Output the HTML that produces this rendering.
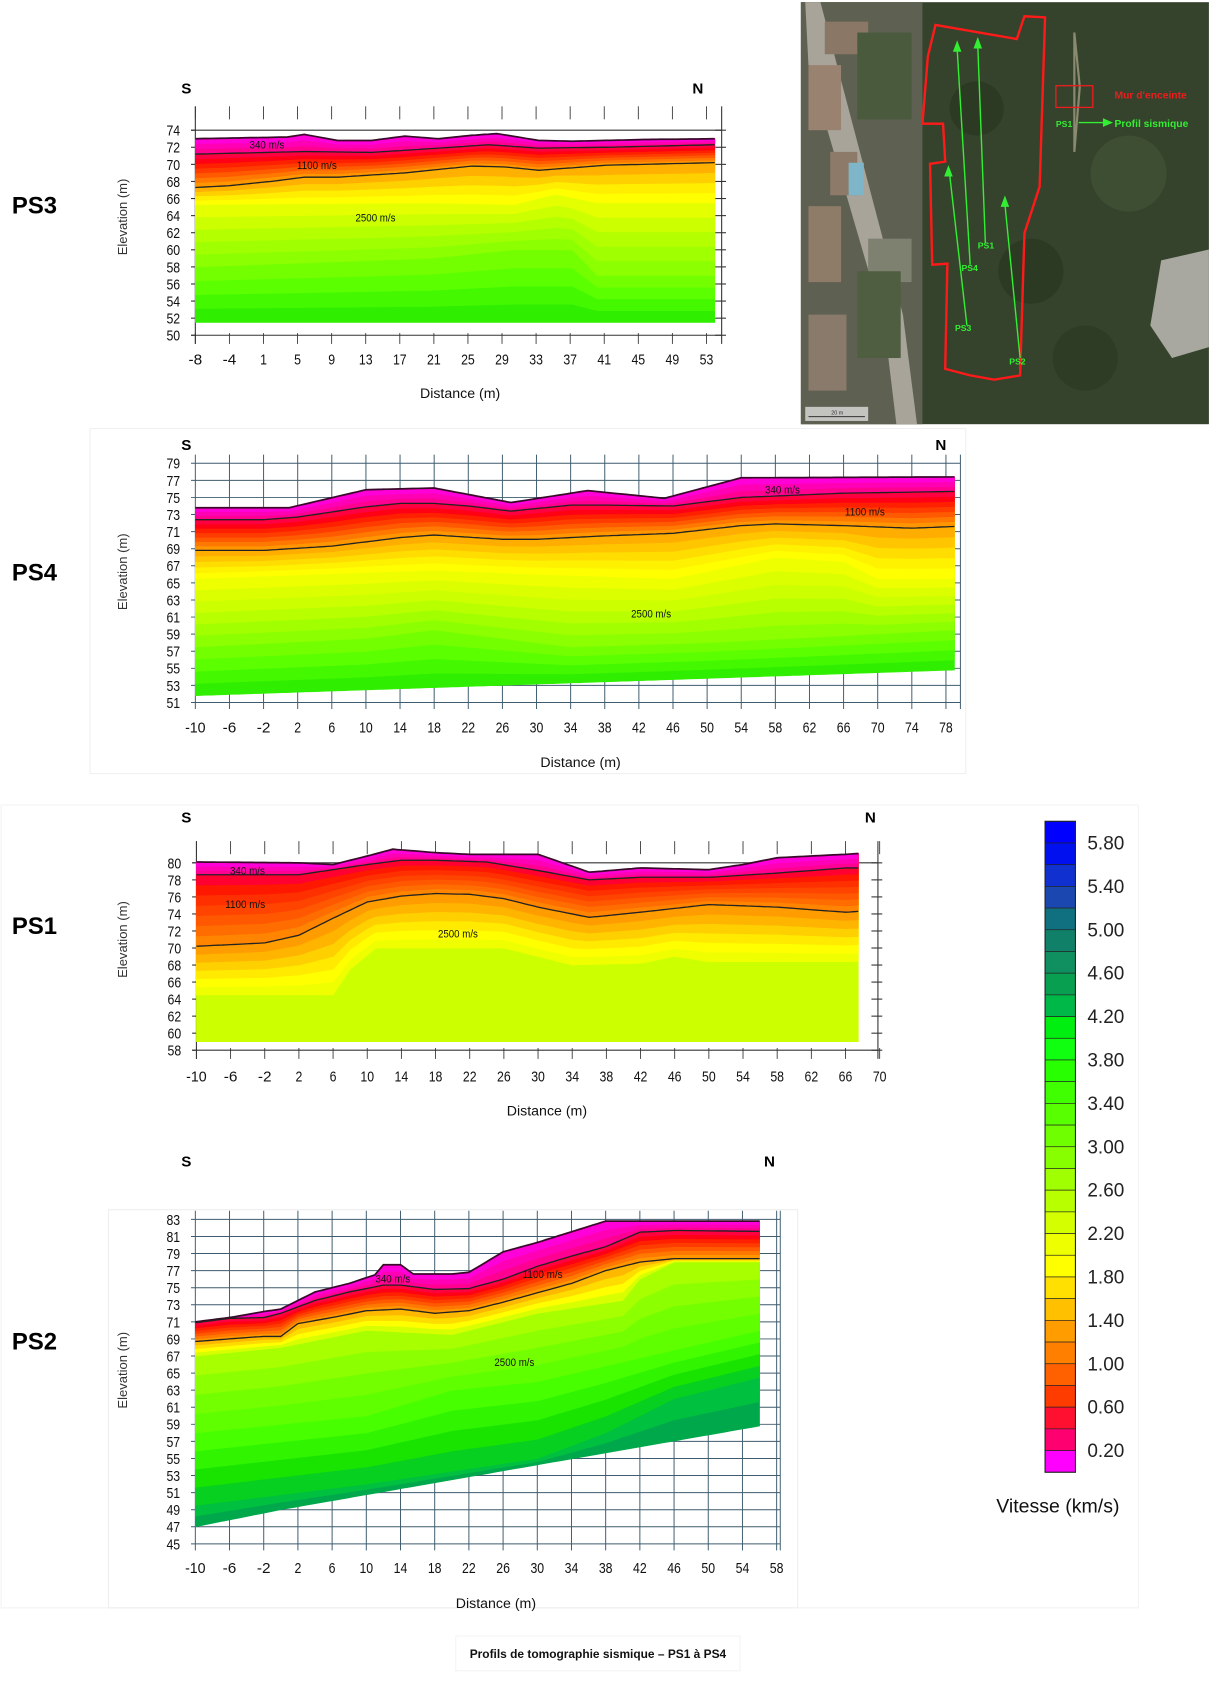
<!DOCTYPE html>
<html><head><meta charset="utf-8">
<style>
html,body{margin:0;padding:0;background:#fff;width:1210px;height:1699px;overflow:hidden}
svg{display:block}
text{font-family:"Liberation Sans",sans-serif}
.b{font-family:"Liberation Sans",sans-serif;font-weight:bold}
</style></head>
<body>
<svg id="s" xmlns="http://www.w3.org/2000/svg" width="1210" height="1699" viewBox="0 0 1115 1566" preserveAspectRatio="none">
<rect width="1115" height="1566" fill="#fff"/>
<rect x="83" y="395" width="807" height="318" fill="none" stroke="#f0f0f0"/>
<rect x="1" y="742" width="1048" height="740" fill="none" stroke="#f2f2f2"/>
<rect x="100" y="1115" width="635" height="367" fill="none" stroke="#eee"/>
<rect x="420" y="1508" width="262" height="32" fill="none" stroke="#f4f4f4"/>

<!-- MAP -->
<g>
<rect x="738" y="2" width="376" height="389" fill="#35432c"/>
<polygon points="738,2 850,2 850,391 738,391" fill="#5e6152"/>
<polygon points="742,2 756,2 832,290 845,391 826,391 815,300 745,60" fill="#a8a49a"/>
<rect x="760" y="20" width="40" height="30" fill="#8a7765"/>
<rect x="745" y="60" width="30" height="60" fill="#9a8270"/>
<rect x="765" y="140" width="25" height="40" fill="#8d7a68"/>
<rect x="782" y="150" width="14" height="30" fill="#7fb5c8"/>
<rect x="745" y="190" width="30" height="70" fill="#8e7b68"/>
<rect x="800" y="220" width="40" height="40" fill="#7e8070"/>
<rect x="745" y="290" width="35" height="70" fill="#8a7a6c"/>
<rect x="790" y="30" width="50" height="80" fill="#4a5a3c"/>
<rect x="790" y="250" width="40" height="80" fill="#4f5e40"/>
<polygon points="1070,240 1114,230 1114,320 1080,330 1060,300" fill="#a8a8a0"/>
<circle cx="900" cy="100" r="25" fill="#2c3a24"/><circle cx="950" cy="250" r="30" fill="#2c3a24"/>
<circle cx="1040" cy="160" r="35" fill="#3e4e32"/><circle cx="1000" cy="330" r="30" fill="#2e3c26"/>
<polygon points="990,30 995,80 990,140" fill="none" stroke="#8a8a70" stroke-width="2"/>
<rect x="742" y="375" width="58" height="13" fill="#dcdcdc" opacity=".8"/>
<line x1="745" y1="384" x2="797" y2="384" stroke="#333"/>
<text x="766" y="382" font-size="5" fill="#333">20 m</text>
<polygon points="862,23 937,36 944,15 963,16 958,172 944,215 940,346 916,350 894,346 871,340 873,243 859,244 857,151 871,149 869,114 850,114 855,52" fill="none" stroke="#ff1a1a" stroke-width="2.2"/>
<g stroke="#33ee33" stroke-width="1.3" fill="#33ee33">
<line x1="908" y1="224" x2="901" y2="42"/><polygon points="901,36 898,44 904,44"/>
<line x1="894" y1="244" x2="882" y2="45"/><polygon points="882,39 879,47 885,47"/>
<line x1="891" y1="300" x2="875" y2="160"/><polygon points="874,154 871,162 877,162"/>
<line x1="940" y1="330" x2="926" y2="188"/><polygon points="926,182 923,190 929,190"/>
<line x1="994" y1="113" x2="1020" y2="113"/><polygon points="1024,113 1017,110 1017,116"/>
</g>
<g class="b" font-size="8" fill="#33ee33">
<text x="901" y="229">PS1</text><text x="886" y="250">PS4</text><text x="880" y="305">PS3</text><text x="930" y="336">PS2</text>
<text x="973" y="117">PS1</text><text x="1027" y="117" font-size="9.5">Profil sismique</text>
</g>
<rect x="973" y="79" width="34" height="20" fill="none" stroke="#ee1c1c" stroke-width="1.2"/>
<text x="1027" y="91" class="b" font-size="9.5" fill="#ee1c1c">Mur d'enceinte</text>
</g>

<g id="charts"></g>

<g class="b" font-size="22" fill="#000">
<text x="11" y="197">PS3</text><text x="11" y="535">PS4</text><text x="11" y="861">PS1</text><text x="11" y="1244">PS2</text>
</g>
<g class="b" font-size="14" fill="#000">
<text x="167" y="86">S</text><text x="638" y="86">N</text>
<text x="167" y="415">S</text><text x="862" y="415">N</text>
<text x="167" y="758">S</text><text x="797" y="758">N</text>
<text x="167" y="1075">S</text><text x="704" y="1075">N</text>
</g>

<g id="leg"></g>
<text x="918" y="1394" font-size="18" fill="#111">Vitesse (km/s)</text>
<text x="551" y="1528" text-anchor="middle" class="b" font-size="11" fill="#111">Profils de tomographie sismique – PS1 à PS4</text>
</svg>
<script>
var NS="http://www.w3.org/2000/svg";
var G=document.getElementById("charts");
function el(t,a,p,txt){var e=document.createElementNS(NS,t);for(var k in a)e.setAttribute(k,a[k]);if(txt!==undefined)e.textContent=txt;(p||G).appendChild(e);return e;}
function ip(pts,x){if(x<=pts[0][0])return pts[0][1];for(var i=1;i<pts.length;i++){if(x<=pts[i][0]){var a=pts[i-1],b=pts[i];return a[1]+(b[1]-a[1])*(x-a[0])/(b[0]-a[0]);}}return pts[pts.length-1][1];}
function tl(s){return (s.length*6.3).toFixed(1);}
function chart(o){
 var X=function(d){return o.ax+(d-o.d0)*o.sx;},Y=function(e){return o.ay-(e-o.e0)*o.sy;};
 var xs=[];for(var d=o.dmin;d<o.dmax;d+=0.5)xs.push(d);xs.push(o.dmax);
 var xl=o.xl;
 if(o.grid){
  for(var e=o.e0;e<=o.e1;e+=2)el("line",{x1:o.ax-4,x2:o.gr,y1:Y(e),y2:Y(e),stroke:"#3e5c6e","stroke-width":0.9});
  for(var i=0;i<xl.length;i++){var x=o.ax+i*o.tstep;el("line",{x1:x,x2:x,y1:Y(o.e1)-8,y2:Y(o.e0)+6,stroke:"#3e5c6e","stroke-width":0.9});}
  el("line",{x1:o.gr,x2:o.gr,y1:Y(o.e1)-8,y2:Y(o.e0)+6,stroke:"#3e5c6e","stroke-width":0.9});
 } else {
  el("line",{x1:o.ax-4,x2:o.gr,y1:Y(o.e1),y2:Y(o.e1),stroke:"#333","stroke-width":1});
  el("line",{x1:o.ax-4,x2:o.gr,y1:Y(o.e0),y2:Y(o.e0),stroke:"#333","stroke-width":1});
  el("line",{x1:o.gr,x2:o.gr,y1:Y(o.e1)-o.tt,y2:Y(o.e0)+8,stroke:"#333","stroke-width":1});
  el("line",{x1:o.ax,x2:o.ax,y1:Y(o.e1)-o.tt,y2:Y(o.e0)+8,stroke:"#333","stroke-width":1});
  for(var i=0;i<xl.length;i++){var x=o.ax+i*o.tstep;
   el("line",{x1:x,x2:x,y1:Y(o.e1)-o.tt,y2:Y(o.e1)-o.tt+12,stroke:"#333","stroke-width":0.8});
   el("line",{x1:x,x2:x,y1:Y(o.e0)-2,y2:Y(o.e0)+8,stroke:"#333","stroke-width":0.8});}
  for(var e=o.e0;e<=o.e1;e+=2){el("line",{x1:o.ax-4,x2:o.ax,y1:Y(e),y2:Y(e),stroke:"#333"});el("line",{x1:o.gr-6,x2:o.gr+4,y1:Y(e),y2:Y(e),stroke:"#333"});}
 }
 var T=o.T,bounds=[];
 o.segs.forEach(function(s){var A=s[0],B=s[1],cols=s[2],n=cols.length;
  for(var k=1;k<=n;k++){(function(f,c){bounds.push({f:function(x){var t=ip(T,x);var v=ip(A,x)+(ip(B,x)-ip(A,x))*f;return Math.min(v,t);},c:c});})(k/n,cols[k-1]);}
 });
 for(var j=bounds.length-1;j>=0;j--){var b=bounds[j];var p=[];
  xs.forEach(function(x){p.push(X(x).toFixed(1)+","+Y(ip(T,x)).toFixed(1));});
  for(var i=xs.length-1;i>=0;i--)p.push(X(xs[i]).toFixed(1)+","+Y(b.f(xs[i])).toFixed(1));
  el("polygon",{points:p.join(" "),fill:b.c,stroke:b.c,"stroke-width":0.6});}
 [o.T,o.c340,o.c1100].forEach(function(c,ii){var p=[];xs.forEach(function(x){p.push(X(x).toFixed(1)+","+Y(Math.min(ip(c,x),ip(T,x))).toFixed(1));});
  el("polyline",{points:p.join(" "),fill:"none",stroke:ii==0?"#3a0a2a":"#222","stroke-width":ii==0?1.6:1.2});});
 for(var i=0;i<xl.length;i++)el("text",{x:o.ax+i*o.tstep,y:o.ly,"text-anchor":"middle","font-size":13.5,fill:"#111",textLength:tl(xl[i]),lengthAdjust:"spacingAndGlyphs"},undefined,xl[i]);
 for(var e=o.e0;e<=o.e1;e+=2)el("text",{x:o.ax-14,y:Y(e)+5,"text-anchor":"end","font-size":13.5,fill:"#111",textLength:tl(String(e)),lengthAdjust:"spacingAndGlyphs"},undefined,String(e));
 el("text",{x:o.dt[0],y:o.dt[1],"text-anchor":"middle","font-size":13,fill:"#111",textLength:"74",lengthAdjust:"spacingAndGlyphs"},undefined,"Distance (m)");
 el("text",{transform:"translate(117,"+o.et+") rotate(-90)","text-anchor":"middle","font-size":12,fill:"#333"},undefined,"Elevation (m)");
 o.lab.forEach(function(l){el("text",{x:l[0],y:l[1],"text-anchor":"middle","font-size":10,fill:"#111",textLength:(l[2].length*4.6).toFixed(1),lengthAdjust:"spacingAndGlyphs"},undefined,l[2]);});
}
var MAG=['#ff00d8','#ff00b4','#ff0090'];
var RED=['#ff0040','#ff0014','#ff2000','#ff3c00','#ff5a00','#ff7800','#ff9600'];
var ORY=['#ffae00','#ffc600','#ffdd00','#fff200','#ffff00'];
var YG=['#eeff00','#dcff00','#ccff00','#b8ff00','#a2ff00','#8cff00'];
var GR=['#74ff00','#5cff00','#44f800','#30ee00'];
function rng(a,b,s){var r=[];for(var v=a;v<=b;v+=s)r.push(String(v));return r;}

(function(){var T=[[-8,73],[3,73.2],[5,73.5],[9,72.8],[13,72.8],[17,73.3],[21,73],[25,73.4],[28,73.6],[33,72.8],[37,72.7],[45,72.9],[54,73]];
var c340=[[-8,71.2],[5,71.5],[13,71.4],[21,71.9],[27,72.3],[33,71.9],[41,72],[54,72.3]];
var c1100=[[-8,67.3],[-4,67.5],[1,68],[5,68.5],[9,68.5],[17,69],[25,69.8],[29,69.7],[33,69.3],[41,69.9],[54,70.2]];
var cY=[[-8,65.3],[20,65.5],[30,65.3],[35,66.5],[40,65.5],[54,65.5]];
var cG=[[-8,58],[20,59],[30,60],[37,60],[40,57],[54,57]];
var bot=[[-8,51.5],[54,51.5]];
chart({ax:180,d0:-8,sx:7.72,ay:309,e0:50,e1:74,sy:7.875,dmin:-8,dmax:54,gr:665,tt:22,tstep:31.4,
xl:['-8','-4','1','5','9','13','17','21','25','29','33','37','41','45','49','53'],ly:336,grid:false,
T:T,c340:c340,c1100:c1100,segs:[[T,c340,MAG],[c340,c1100,RED],[c1100,cY,['#ffb000','#ffd000','#ffee00','#ffff00']],[cY,cG,['#e4ff00','#ccff00','#b4ff00','#a0ff00','#8cff00']],[cG,bot,GR]],
dt:[424,367],et:200,lab:[[246,137,'340 m/s'],[292,156,'1100 m/s'],[346,204,'2500 m/s']]});})();

(function(){var T=[[-10,73.8],[1,73.8],[10,75.9],[14,76],[18,76.1],[27,74.4],[36,75.8],[45,74.9],[54,77.3],[79,77.4]];
var c340=[[-10,72.4],[-2,72.4],[2,72.7],[10,73.9],[14,74.3],[18,74.3],[22,74],[27,73.4],[30,73.7],[34,74.1],[38,74.1],[46,74],[54,75],[66,75.5],[79,75.7]];
var c1100=[[-10,68.8],[-2,68.8],[6,69.3],[14,70.3],[18,70.6],[26,70.1],[30,70.1],[38,70.5],[46,70.8],[54,71.7],[58,71.9],[66,71.7],[74,71.4],[79,71.6]];
var cY=[[-10,65.5],[18,66.5],[30,66],[46,65.5],[58,68],[66,67.5],[70,65.5],[79,65.5]];
var cG=[[-10,57.5],[10,58.5],[18,59.5],[26,58.5],[34,57.5],[50,58],[79,59.5]];
var bot=[[-10,51.8],[79,54.8]];
chart({ax:180,d0:-10,sx:7.86,ay:647.5,e0:51,e1:79,sy:7.875,dmin:-10,dmax:79,gr:885,tstep:31.44,
xl:rng(-10,78,4),ly:675,grid:true,
T:T,c340:c340,c1100:c1100,segs:[[T,c340,MAG],[c340,c1100,RED],[c1100,cY,ORY],[cY,cG,YG],[cG,bot,GR]],
dt:[535,707],et:527,lab:[[721,455,'340 m/s'],[797,475,'1100 m/s'],[600,569,'2500 m/s']]});})();

(function(){var T=[[-10,80.1],[2,80],[6,79.8],[10,80.8],[13,81.6],[18,81.2],[22,81],[30,81],[36,78.9],[42,79.4],[50,79.2],[54,79.8],[58,80.6],[66,81],[67.5,81.1]];
var c340=[[-10,78.6],[2,78.6],[6,79.2],[10,79.8],[14,80.3],[18,80.3],[24,80.1],[30,79.1],[36,78],[42,78.3],[50,78.3],[58,78.8],[66,79.4],[67.5,79.4]];
var c1100=[[-10,70.2],[-6,70.4],[-2,70.6],[2,71.5],[6,73.5],[10,75.4],[14,76.1],[18,76.4],[22,76.3],[26,75.8],[30,74.8],[36,73.6],[42,74.2],[50,75.1],[58,74.8],[66,74.2],[67.5,74.3]];
var cY=[[-10,64.5],[6,64.5],[8,67.5],[11,70],[26,70],[34,68],[42,68.2],[46,69],[50,68.4],[67.5,68.4]];
var bot=[[-10,59],[67.5,59]];
chart({ax:181,d0:-10,sx:7.87,ay:968,e0:58,e1:80,sy:7.85,dmin:-10,dmax:67.5,gr:809,tt:20,tstep:31.48,
xl:rng(-10,70,4),ly:997,grid:false,
T:T,c340:c340,c1100:c1100,segs:[[T,c340,MAG],[c340,c1100,['#ff0030','#ff1800','#ff3000','#ff4400','#ff5800','#ff6c00','#ff8400']],[c1100,cY,['#ff9c00','#ffb400','#ffd000','#ffea00','#ffff00','#f0ff00']],[cY,bot,['#ccff00']]],
dt:[504,1028],et:866,lab:[[228,806,'340 m/s'],[226,837,'1100 m/s'],[422,864,'2500 m/s']]});})();

(function(){var T=[[-10,71],[-6,71.5],[-2,72.2],[0,72.5],[4,74.5],[8,75.5],[11,76.5],[12,77.7],[14,77.7],[15.5,76.6],[20,76.6],[22,76.8],[26,79.2],[30,80.3],[38,82.8],[56,82.8]];
var c340=[[-10,70.9],[-6,71.4],[-2,71.5],[0,72],[4,73.5],[8,74.5],[12,75.3],[14,75.3],[18,74.8],[22,74.9],[26,76],[30,77.5],[34,78.7],[38,79.8],[42,81.5],[46,81.7],[56,81.6]];
var c1100=[[-10,68.7],[-6,69],[-2,69.3],[0,69.3],[2,70.8],[6,71.5],[10,72.3],[14,72.5],[18,72],[22,72.3],[26,73.3],[30,74.4],[34,75.5],[38,77],[42,78],[46,78.4],[56,78.4]];
var cY=[[-10,67],[0,68],[10,70],[20,69.5],[30,72],[40,73.5],[42,76],[46,78],[56,78]];
var cG=[[-10,58],[10,60],[20,63],[30,64],[56,70]];
var cD=[[-10,49.5],[10,52],[30,55],[38,58],[46,62],[56,64.5]];
var bot=[[-10,47],[0,49],[20,52.5],[40,56],[56,58.8]];
chart({ax:180,d0:-10,sx:7.878,ay:1423,e0:45,e1:83,sy:7.87,dmin:-10,dmax:56,gr:719,tstep:31.51,
xl:rng(-10,58,4),ly:1450,grid:true,
T:T,c340:c340,c1100:c1100,segs:[[T,c340,MAG],[c340,c1100,RED],[c1100,cY,['#ffb800','#ffdc00','#ffff00','#d8ff00']],[cY,cG,['#a8ff00','#8cff00','#74ff00','#60ff00']],[cG,cD,['#48ff00','#30f400','#18e400','#08d020']],[cD,bot,['#00c040','#00a84c']]],
dt:[457,1482],et:1263,lab:[[362,1182,'340 m/s'],[500,1178,'1100 m/s'],[474,1259,'2500 m/s']]});})();

(function(){var L=document.getElementById("leg");
var cols=['#0000ff','#0010ee','#1030d0','#1a48b0','#107080','#108068','#109060','#08a050','#00b848','#00ee10','#10ff10','#28ff00','#40ff00','#58ff00','#70ff00','#88ff00','#a0ff00','#b8ff00','#d4ff00','#eeff00','#ffff00','#ffe000','#ffc000','#ff9c00','#ff8000','#ff6000','#ff3c00','#ff1030','#ff0070','#ff00ff'];
var y0=757,h=20;
cols.forEach(function(c,i){el("rect",{x:963,y:y0+i*h,width:28,height:h,fill:c,stroke:"#222","stroke-width":0.6},L);});
el("rect",{x:963,y:y0,width:28,height:600,fill:"none",stroke:"#222","stroke-width":1},L);
var labs=['5.80','5.40','5.00','4.60','4.20','3.80','3.40','3.00','2.60','2.20','1.80','1.40','1.00','0.60','0.20'];
labs.forEach(function(t,i){el("text",{x:1002,y:783+i*40,"font-size":17.5,fill:"#222"},L,t);});
})();
</script>
</body></html>
